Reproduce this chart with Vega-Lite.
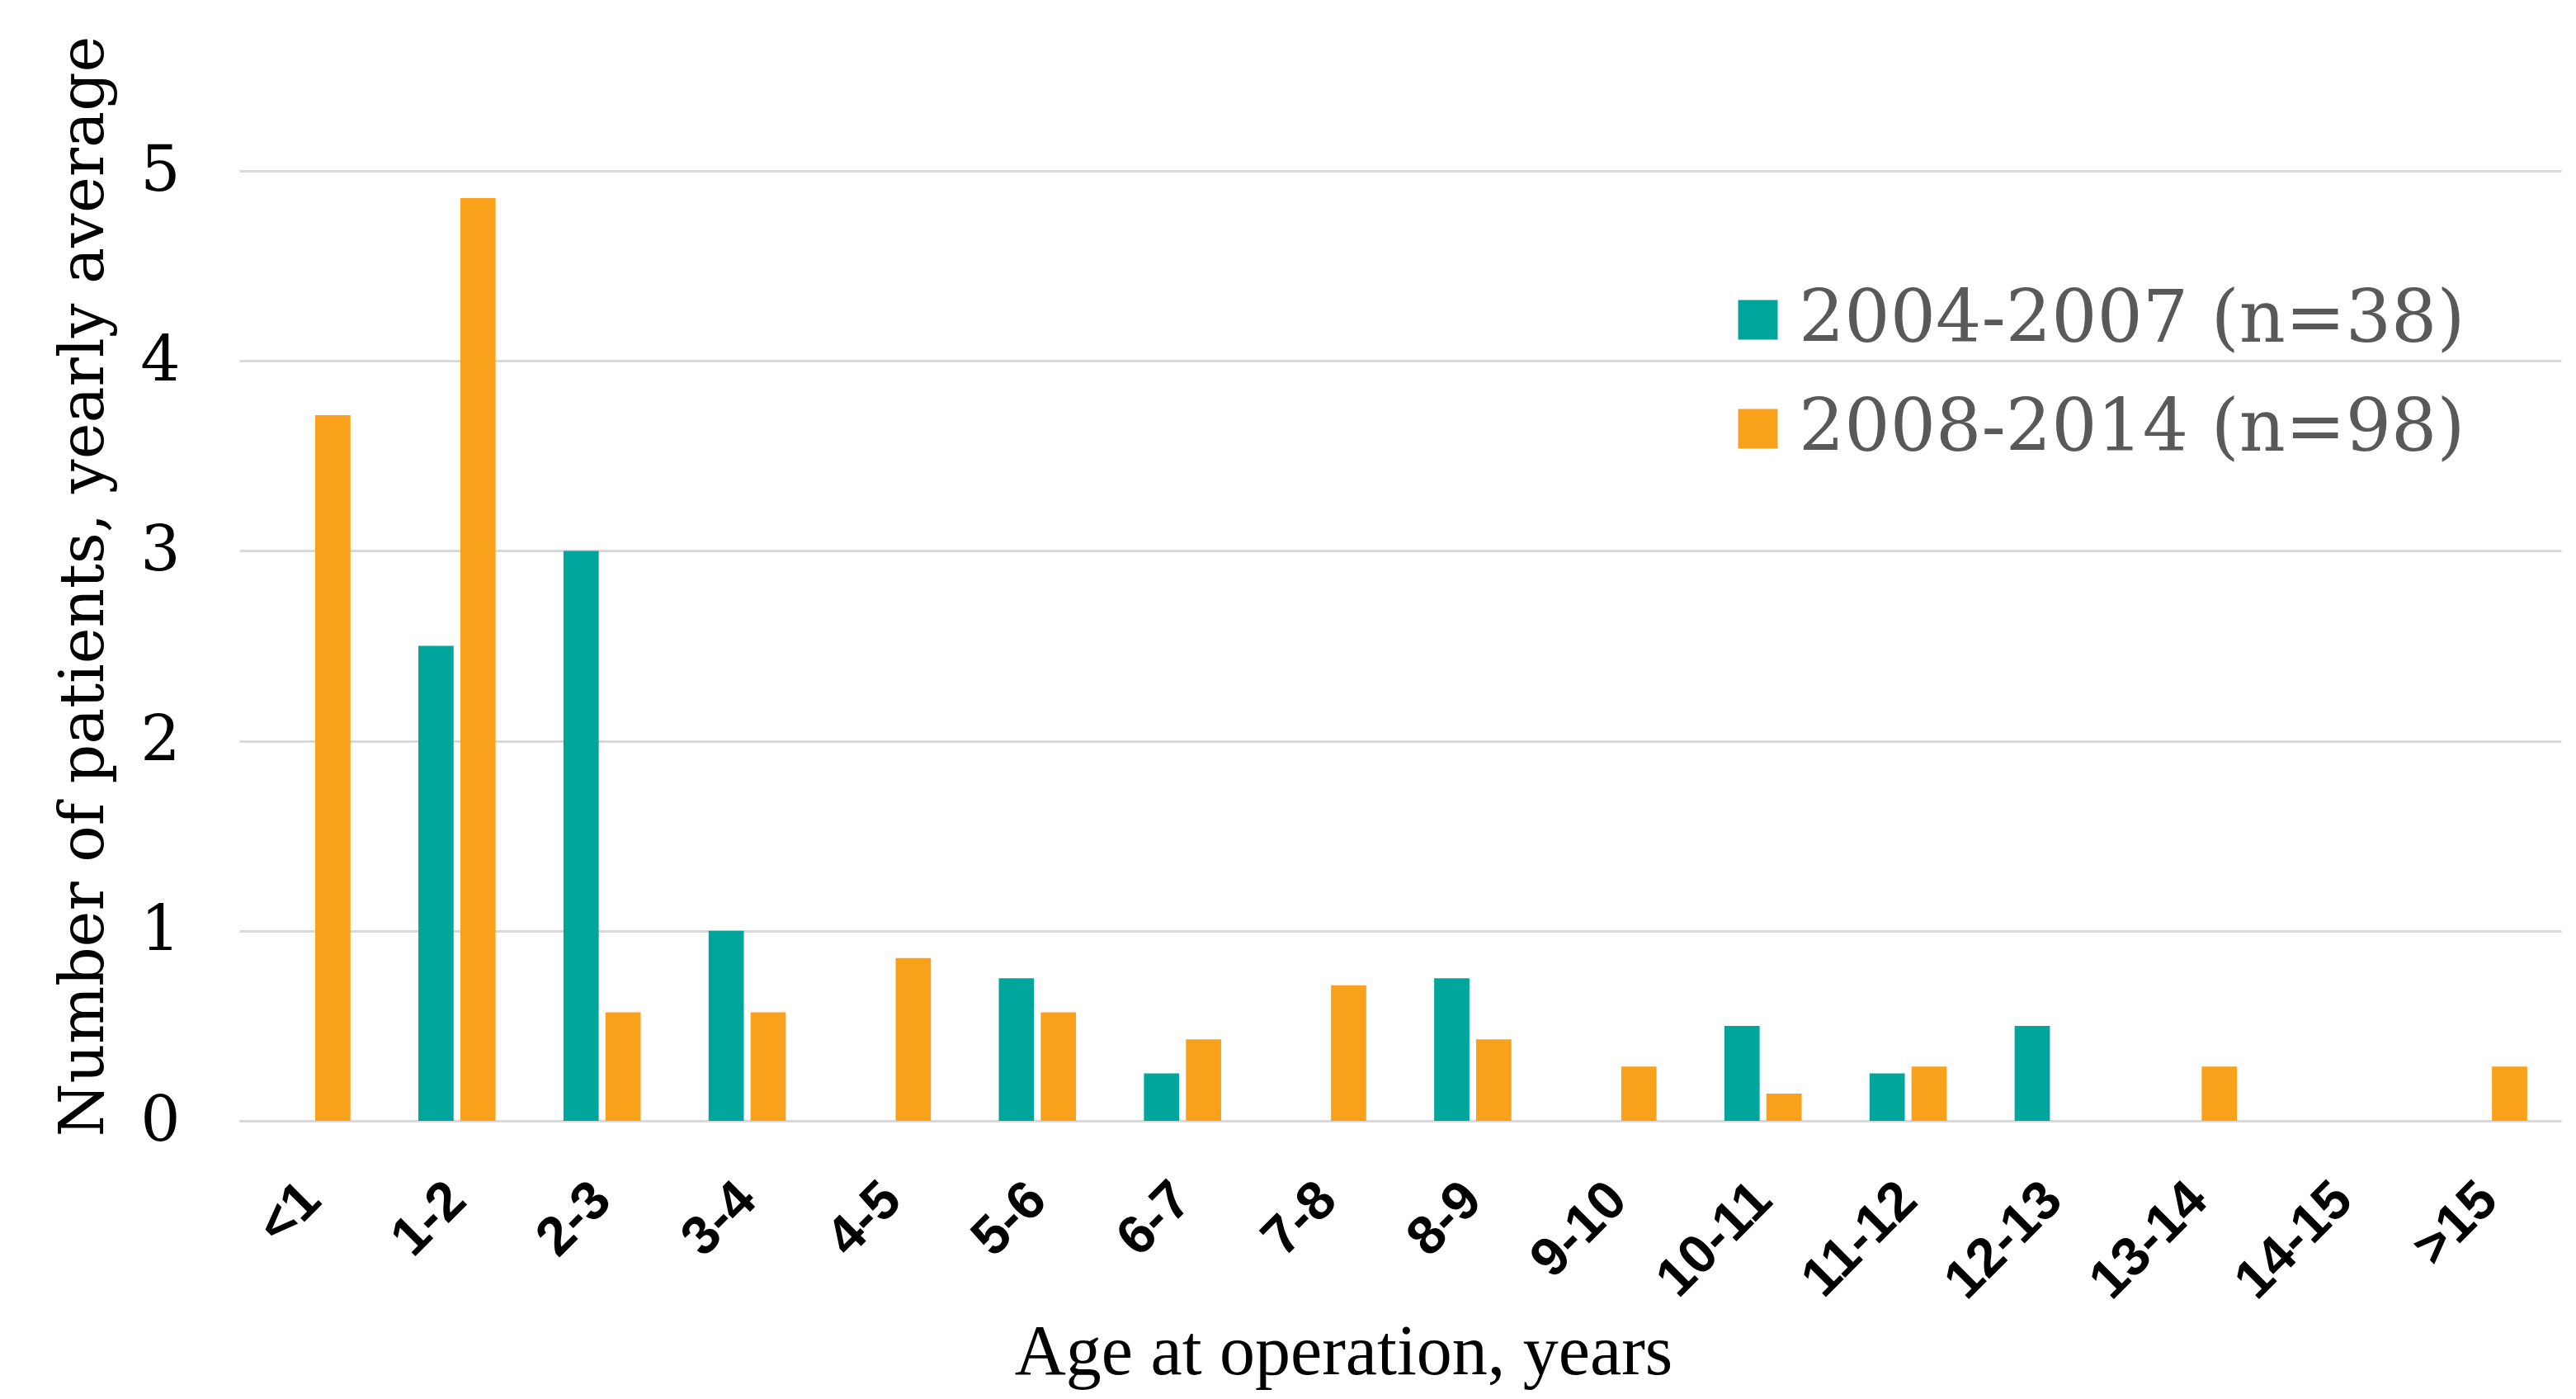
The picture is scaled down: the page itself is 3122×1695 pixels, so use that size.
{
  "$schema": "https://vega.github.io/schema/vega-lite/v6.json",
  "width": 2814,
  "height": 1151,
  "autosize": {"type": "none"},
  "padding": {"left": 290, "top": 207, "right": 18, "bottom": 337},
  "background": "white",
  "data": {
    "values": [
      {"age": "<1", "period": "2004-2007 (n=38)", "value": 0},
      {"age": "<1", "period": "2008-2014 (n=98)", "value": 3.714},
      {"age": "1-2", "period": "2004-2007 (n=38)", "value": 2.5},
      {"age": "1-2", "period": "2008-2014 (n=98)", "value": 4.857},
      {"age": "2-3", "period": "2004-2007 (n=38)", "value": 3.0},
      {"age": "2-3", "period": "2008-2014 (n=98)", "value": 0.571},
      {"age": "3-4", "period": "2004-2007 (n=38)", "value": 1.0},
      {"age": "3-4", "period": "2008-2014 (n=98)", "value": 0.571},
      {"age": "4-5", "period": "2004-2007 (n=38)", "value": 0},
      {"age": "4-5", "period": "2008-2014 (n=98)", "value": 0.857},
      {"age": "5-6", "period": "2004-2007 (n=38)", "value": 0.75},
      {"age": "5-6", "period": "2008-2014 (n=98)", "value": 0.571},
      {"age": "6-7", "period": "2004-2007 (n=38)", "value": 0.25},
      {"age": "6-7", "period": "2008-2014 (n=98)", "value": 0.429},
      {"age": "7-8", "period": "2004-2007 (n=38)", "value": 0},
      {"age": "7-8", "period": "2008-2014 (n=98)", "value": 0.714},
      {"age": "8-9", "period": "2004-2007 (n=38)", "value": 0.75},
      {"age": "8-9", "period": "2008-2014 (n=98)", "value": 0.429},
      {"age": "9-10", "period": "2004-2007 (n=38)", "value": 0},
      {"age": "9-10", "period": "2008-2014 (n=98)", "value": 0.286},
      {"age": "10-11", "period": "2004-2007 (n=38)", "value": 0.5},
      {"age": "10-11", "period": "2008-2014 (n=98)", "value": 0.143},
      {"age": "11-12", "period": "2004-2007 (n=38)", "value": 0.25},
      {"age": "11-12", "period": "2008-2014 (n=98)", "value": 0.286},
      {"age": "12-13", "period": "2004-2007 (n=38)", "value": 0.5},
      {"age": "12-13", "period": "2008-2014 (n=98)", "value": 0},
      {"age": "13-14", "period": "2004-2007 (n=38)", "value": 0},
      {"age": "13-14", "period": "2008-2014 (n=98)", "value": 0.286},
      {"age": "14-15", "period": "2004-2007 (n=38)", "value": 0},
      {"age": "14-15", "period": "2008-2014 (n=98)", "value": 0},
      {"age": ">15", "period": "2004-2007 (n=38)", "value": 0},
      {"age": ">15", "period": "2008-2014 (n=98)", "value": 0.286}
    ]
  },
  "mark": {"type": "bar"},
  "encoding": {
    "x": {
      "field": "age",
      "type": "nominal",
      "sort": ["<1", "1-2", "2-3", "3-4", "4-5", "5-6", "6-7", "7-8", "8-9", "9-10", "10-11", "11-12", "12-13", "13-14", "14-15", ">15"],
      "scale": {"paddingInner": 0.468, "paddingOuter": 0.234},
      "axis": {
        "title": "Age at operation, years",
        "titleFont": "Liberation Serif",
        "titleFontSize": 86,
        "titleFontWeight": "normal",
        "titleColor": "#000000",
        "titleX": 1338,
        "titleY": 306,
        "titleBaseline": "alphabetic",
        "labelAngle": -45,
        "labelAlign": "right",
        "labelBaseline": "middle",
        "labelFont": "Liberation Sans",
        "labelFontWeight": "bold",
        "labelFontSize": 66,
        "labelColor": "#000000",
        "labelPadding": 85,
        "ticks": false,
        "domain": true,
        "domainColor": "#D9D9D9",
        "domainWidth": 3,
        "grid": false
      }
    },
    "xOffset": {
      "field": "period",
      "type": "nominal",
      "scale": {"paddingInner": 0.16, "paddingOuter": 0}
    },
    "y": {
      "field": "value",
      "type": "quantitative",
      "scale": {"domain": [0, 5], "nice": false},
      "axis": {
        "title": "Number of patients, yearly average",
        "titleFont": "DejaVu Serif",
        "titleFontSize": 74,
        "titleFontWeight": "normal",
        "titleColor": "#000000",
        "titleAngle": -90,
        "titleX": -166,
        "titleY": 503,
        "titleAlign": "center",
        "titleBaseline": "alphabetic",
        "values": [0, 1, 2, 3, 4, 5],
        "labelFont": "DejaVu Serif",
        "labelFontSize": 76,
        "labelColor": "#000000",
        "labelPadding": 72,
        "ticks": false,
        "domain": false,
        "grid": true,
        "gridColor": "#D9D9D9",
        "gridWidth": 3
      }
    },
    "color": {
      "field": "period",
      "type": "nominal",
      "scale": {"domain": ["2004-2007 (n=38)", "2008-2014 (n=98)"], "range": ["#00A59B", "#F9A11B"]},
      "legend": {
        "title": null,
        "orient": "none",
        "legendX": 1797,
        "legendY": 137,
        "padding": 0,
        "symbolType": "square",
        "symbolSize": 2300,
        "symbolStrokeWidth": 0,
        "labelFont": "DejaVu Serif",
        "labelFontSize": 87,
        "labelColor": "#595959",
        "labelOffset": 6,
        "labelLimit": 2000,
        "rowPadding": 44
      }
    }
  },
  "config": {
    "view": {"stroke": null}
  }
}
